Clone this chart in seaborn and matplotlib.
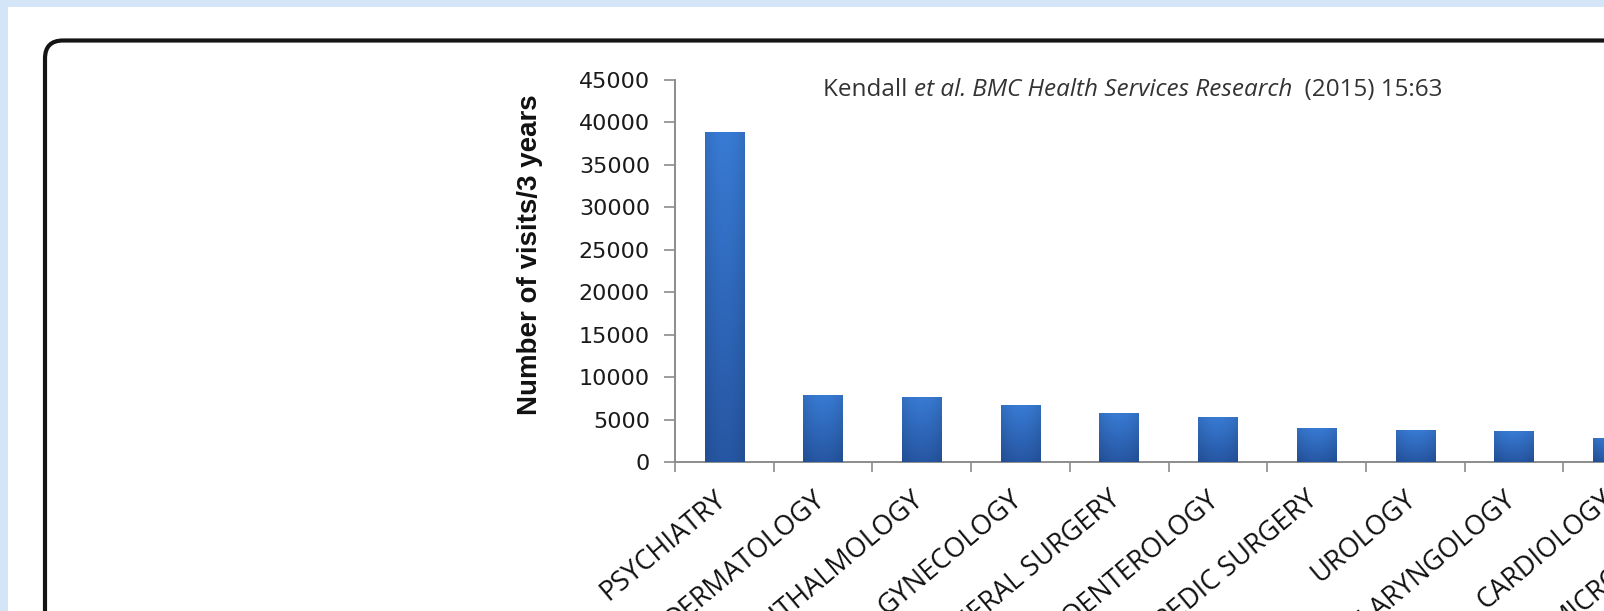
import numpy as np
import pandas as pd
import matplotlib
matplotlib.use('Agg')
import matplotlib.pyplot as plt
import matplotlib.transforms as mtransforms
from matplotlib.patches import Rectangle, FancyBboxPatch
import seaborn as sns

# data
specialties = ['PSYCHIATRY', 'DERMATOLOGY', 'OPHTHALMOLOGY', 'GYNECOLOGY',
               'GENERAL SURGERY', 'GASTROENTEROLOGY', 'ORTHOPEDIC SURGERY',
               'UROLOGY', 'OTOLARYNGOLOGY', 'CARDIOLOGY', 'MICROBIOLOGY']
visits = [38800, 7800, 7550, 6700, 5750, 5250, 3950, 3750, 3650, 2750, 2500]
y_ticks = [0, 5000, 10000, 15000, 20000, 25000, 30000, 35000, 40000, 45000]

df = pd.DataFrame({'specialty': specialties, 'visits': visits})

sns.set_style('white')
plt.rcParams['font.family'] = ['DejaVu Sans']

W, H = 1604, 611
fig = plt.figure(figsize=(W / 100, H / 100), dpi=100, facecolor='#d3e5f6')

# white slide area and rounded black frame (pixel coords)
pix = mtransforms.IdentityTransform()
fig.add_artist(Rectangle((8, -20), W + 50, H - 7 + 20, transform=pix,
                         facecolor='white', edgecolor='none', zorder=-10))
fig.add_artist(FancyBboxPatch((45, -300), W + 300, H - 40.5 + 300,
                              boxstyle='round,pad=0,rounding_size=18',
                              transform=pix, facecolor='none',
                              edgecolor='#141414', linewidth=3, zorder=-5))

spacing = 98.7
ax = fig.add_axes([675 / W, 149 / H, spacing * 11 / W, 382 / H])
ax.set_facecolor('none')

sns.barplot(data=df, x='specialty', y='visits', color='#2f68b8',
            width=0.4, ax=ax, saturation=1)

# gradient fill on the bars
ny, nx = 60, 24
yy = np.linspace(0, 1, ny)[:, None]
xx = np.linspace(-1, 1, nx)[None, :]
top = np.array([0.22, 0.48, 0.83])
bot = np.array([0.15, 0.34, 0.64])
shade = 1 - 0.10 * xx ** 2
for p in ax.patches:
    x0, w, h = p.get_x(), p.get_width(), p.get_height()
    grad = (top[None, None, :] * (1 - yy[..., None]) + bot[None, None, :] * yy[..., None]) * shade[..., None]
    ax.imshow(np.clip(grad, 0, 1), extent=(x0, x0 + w, 0, h), origin='upper',
              aspect='auto', zorder=3, interpolation='bilinear')

ax.set_xlim(-0.5, len(specialties) - 0.5)
ax.set_ylim(0, 45000)
ax.set_yticks(y_ticks)
ax.set_yticklabels([str(v) for v in y_ticks])

sns.despine(ax=ax)
for s in ['left', 'bottom']:
    ax.spines[s].set_color('#8c8c8c')
    ax.spines[s].set_linewidth(1.4)

ax.tick_params(axis='y', direction='out', length=8, width=1.2, color='#8c8c8c',
               pad=10, labelsize=16, labelcolor='#1a1a1a', left=True)
ax.set_xticks(np.arange(-0.5, len(specialties), 1), minor=True)
ax.tick_params(axis='x', which='minor', direction='out', length=7, width=1.2,
               color='#8c8c8c', bottom=True)
ax.tick_params(axis='x', which='major', length=0, pad=0)

off = mtransforms.ScaledTranslation(-2 / 100, -34 / 100, fig.dpi_scale_trans)
for lab in ax.get_xticklabels():
    lab.set_rotation(40)
    lab.set_rotation_mode('anchor')
    lab.set_ha('right')
    lab.set_va('center')
    lab.set_fontfamily('Open Sans')
    lab.set_fontsize(19.5)
    lab.set_color('#111111')
    lab.set_transform(lab.get_transform() + off)

ax.set_xlabel('')
ax.set_ylabel('Number of visits/3 years', fontsize=20, fontweight='bold',
              family='Liberation Sans', color='#111111')
ax.yaxis.set_label_coords((543 - 675) / (spacing * 11), (356 - 149) / 382)

# source line: regular and italic pieces placed one after another
pieces = [('Kendall ', 'normal'), ('et al.', 'italic'),
          (' BMC Health Services Research', 'italic'), ('  (2015) 15:63', 'normal')]
prev = fig.text(823 / W, (H - 102) / H, pieces[0][0], family='Open Sans',
                fontsize=17.5, color='#333333', ha='left', va='bottom')
for txt, st in pieces[1:]:
    prev = ax.annotate(txt, xy=(1, 0), xycoords=prev, ha='left', va='bottom',
                       family='Open Sans', style=st, fontsize=17.5,
                       color='#333333', annotation_clip=False)

plt.savefig('out.png', dpi=100)
